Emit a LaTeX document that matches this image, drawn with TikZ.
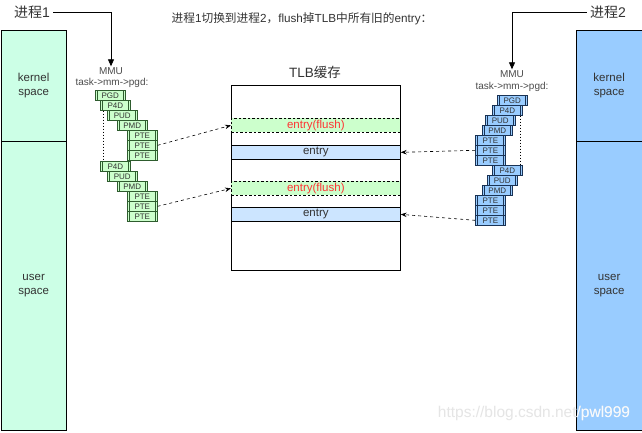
\documentclass[tikz,border=0pt]{standalone}
\usepackage{fontspec}
\setmainfont{Liberation Sans}
\newfontfamily\cjk{Noto Sans CJK SC}
\usetikzlibrary{arrows.meta}
\definecolor{kgreen}{HTML}{CCFFE6}
\definecolor{kblue}{HTML}{99CCFF}
\definecolor{bgreen}{HTML}{CCFFCC}
\definecolor{eblue}{HTML}{CCE5FF}
\definecolor{gline}{HTML}{2E5C2E}
\definecolor{bline}{HTML}{1A3355}
\definecolor{flushred}{HTML}{FF3333}
\definecolor{txt}{HTML}{333333}
\begin{document}
\begin{tikzpicture}[x=1pt,y=-1pt,
  col/.style={draw=black, line width=0.8pt, minimum width=65.5pt, inner sep=0pt, align=center,
    anchor=north west, font=\fontsize{11.5}{14}\selectfont, text=txt},
  pbox/.style={draw, line width=0.6pt, minimum width=30pt, minimum height=10pt, inner sep=0pt,
    anchor=north west, font=\fontsize{8}{8}\selectfont, text=txt,
    path picture={
      \draw[line width=0.6pt] ([xshift=2pt]path picture bounding box.north west) -- ([xshift=2pt]path picture bounding box.south west);
      \draw[line width=0.6pt] ([xshift=-2pt]path picture bounding box.north east) -- ([xshift=-2pt]path picture bounding box.south east);}},
  gbox/.style={pbox, fill=bgreen, draw=gline},
  bbox/.style={pbox, fill=kblue, draw=bline},
  band/.style={minimum width=169pt, minimum height=14pt, inner sep=0pt, anchor=north west,
    font=\fontsize{11.5}{12}\selectfont, line width=0.7pt},
  flushband/.style={band, fill=bgreen, draw=black, dashed, dash pattern=on 2.5pt off 2pt, text=flushred},
  entryband/.style={band, fill=eblue, draw=black, text=txt},
  mmulabel/.style={font=\fontsize{10}{10}\selectfont, text=black!70, inner sep=1pt},
  ptr/.style={line width=0.8pt, -{Triangle[length=7pt,width=6pt]}},
  dconn/.style={line width=0.6pt, dash pattern=on 3pt off 3pt, -{Stealth[length=6pt,width=4.5pt]}},
  dotln/.style={line width=1pt, dash pattern=on 1.5pt off 1.5pt},
  wm/.style={font=\fontsize{15.5}{16}\selectfont, inner sep=0pt}
]
\useasboundingbox (0,0) rectangle (642,432);
\fill[white] (0,0) rectangle (642,432);

% columns
\node[col, fill=kgreen, minimum height=111pt] (lk) at (0.5,30) {kernel\\space};
\node[col, fill=kgreen, minimum height=289pt] (lu) at (0.5,141) {user\\space};
\node[col, fill=kblue, minimum height=111pt] (rk) at (576,30) {kernel\\space};
\node[col, fill=kblue, minimum height=289pt] (ru) at (576,141) {user\\space};

% headings
\node[font=\fontsize{14}{14}\selectfont, text=txt] (p1) at (32,12) {{\cjk 进程}1};
\node[font=\fontsize{14}{14}\selectfont, text=txt] (p2) at (608,12) {{\cjk 进程}2};
\node[font=\fontsize{11.7}{12}\selectfont, text=txt] (title) at (302,19)
  {{\cjk 进程}1{\cjk 切换到进程}2{\cjk ，}flush{\cjk 掉}TLB{\cjk 中所有旧的}entry{\cjk ：}};

% MMU labels
\node[mmulabel] (mmu1) at (111,71) {MMU};
\node[mmulabel] (task1) at (112,83) {task->mm->pgd:};
\node[mmulabel] (mmu2) at (512,74) {MMU};
\node[mmulabel] (task2) at (512,87) {task->mm->pgd:};

\draw[ptr] (p1.east) -| (mmu1.north);
\draw[ptr] (p2.west) -| (mmu2.north);

% left page table stack
\node[gbox] (lpgd) at (95,90) {PGD};
\node[gbox] (lp4da) at (100,100) {P4D};
\node[gbox] (lpuda) at (107,110) {PUD};
\node[gbox] (lpmda) at (117,120) {PMD};
\node[gbox] (lpte1) at (127,130) {PTE};
\node[gbox] (lpte2) at (127,140) {PTE};
\node[gbox] (lpte3) at (127,150) {PTE};
\node[gbox] (lp4db) at (100,161) {P4D};
\node[gbox] (lpudb) at (107,171) {PUD};
\node[gbox] (lpmdb) at (117,181) {PMD};
\node[gbox] (lpte4) at (127,191) {PTE};
\node[gbox] (lpte5) at (127,201) {PTE};
\node[gbox] (lpte6) at (127,211) {PTE};
\draw[dotln] ([xshift=3pt]lp4da.south west) -- ([xshift=3pt]lp4db.north west);

% right page table stack
\node[bbox] (rpgd) at (497,95) {PGD};
\node[bbox] (rp4da) at (492,105) {P4D};
\node[bbox] (rpuda) at (485,115) {PUD};
\node[bbox] (rpmda) at (482,125) {PMD};
\node[bbox] (rpte1) at (475,135) {PTE};
\node[bbox] (rpte2) at (475,145) {PTE};
\node[bbox] (rpte3) at (475,155) {PTE};
\node[bbox] (rp4db) at (492,165) {P4D};
\node[bbox] (rpudb) at (487,175) {PUD};
\node[bbox] (rpmdb) at (482,185) {PMD};
\node[bbox] (rpte4) at (475,195) {PTE};
\node[bbox] (rpte5) at (475,205) {PTE};
\node[bbox] (rpte6) at (475,215) {PTE};
\draw[dotln] ([xshift=-2.5pt]rp4da.south east) -- ([xshift=-2.5pt]rp4db.north east);

% TLB
\node[font=\fontsize{13.5}{14}\selectfont, text=txt] (tlbt) at (315,72) {TLB{\cjk 缓存}};
\node[draw=black, line width=0.8pt, fill=white, minimum width=169pt, minimum height=185pt,
  inner sep=0pt, anchor=north west] (tlb) at (231,85) {};
\node[flushband] (f1) at (231,118) {entry(flush)};
\node[entryband] (e1) at (231,145) {entry};
\node[flushband] (f2) at (231,181) {entry(flush)};
\node[entryband] (e2) at (231,207) {entry};

% connectors
\draw[dconn] (lpte2.east) -- (f1.west);
\draw[dconn] (lpte5.east) -- (f2.west);
\draw[dconn] (rpte2.west) -- (e1.east);
\draw[dconn] (rpte6.west) -- (e2.east);

% watermark
\node[wm, text=black!10] (wm1) at (534,413) {https://blog.csdn.net/pwl999};
\begin{scope}
  \clip (576.4,30) rectangle (642,432);
  \node[wm, text=white!92!kblue] (wm2) at (534,413) {https://blog.csdn.net/pwl999};
\end{scope}
\end{tikzpicture}
\end{document}
